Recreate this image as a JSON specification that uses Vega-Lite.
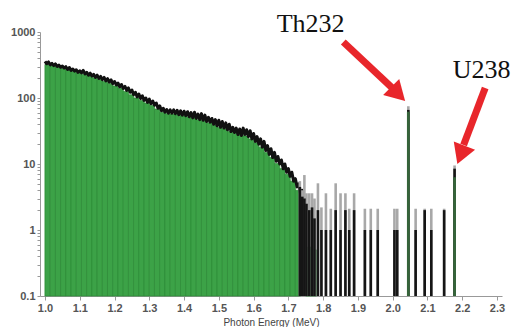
{
  "$schema": "https://vega.github.io/schema/vega-lite/v6.json",
  "width": 462,
  "height": 264,
  "autosize": {"type": "none"},
  "padding": {"left": 40, "top": 32, "right": 15, "bottom": 31},
  "background": "white",
  "config": {"view": {"stroke": null}, "font": "Liberation Sans", "axis": {"labelOverlap": false, "labelBound": false, "labelFlush": false}},
  "datasets": {
    "noise": [
      {"e":1.000,"n":360},{"e":1.005,"n":330},{"e":1.010,"n":352},{"e":1.015,"n":318},{"e":1.020,"n":335},{"e":1.025,"n":310},{"e":1.030,"n":328},{"e":1.035,"n":300},{"e":1.040,"n":315},{"e":1.045,"n":292},
      {"e":1.050,"n":305},{"e":1.055,"n":285},{"e":1.060,"n":298},{"e":1.065,"n":270},{"e":1.070,"n":290},{"e":1.075,"n":262},{"e":1.080,"n":275},{"e":1.085,"n":255},{"e":1.090,"n":268},{"e":1.095,"n":245},
      {"e":1.100,"n":258},{"e":1.105,"n":240},{"e":1.110,"n":262},{"e":1.115,"n":232},{"e":1.120,"n":245},{"e":1.125,"n":222},{"e":1.130,"n":238},{"e":1.135,"n":215},{"e":1.140,"n":228},{"e":1.145,"n":205},
      {"e":1.150,"n":222},{"e":1.155,"n":198},{"e":1.160,"n":212},{"e":1.165,"n":190},{"e":1.170,"n":205},{"e":1.175,"n":182},{"e":1.180,"n":196},{"e":1.185,"n":175},{"e":1.190,"n":188},{"e":1.195,"n":165},
      {"e":1.200,"n":178},{"e":1.205,"n":158},{"e":1.210,"n":168},{"e":1.215,"n":148},{"e":1.220,"n":160},{"e":1.225,"n":140},{"e":1.230,"n":150},{"e":1.235,"n":130},{"e":1.240,"n":142},{"e":1.245,"n":122},
      {"e":1.250,"n":132},{"e":1.255,"n":112},{"e":1.260,"n":122},{"e":1.265,"n":104},{"e":1.270,"n":115},{"e":1.275,"n":98},{"e":1.280,"n":108},{"e":1.285,"n":92},{"e":1.290,"n":100},{"e":1.295,"n":86},
      {"e":1.300,"n":96},{"e":1.305,"n":82},{"e":1.310,"n":90},{"e":1.315,"n":78},{"e":1.320,"n":84},{"e":1.325,"n":70},{"e":1.330,"n":76},{"e":1.335,"n":64},{"e":1.340,"n":70},{"e":1.345,"n":61},
      {"e":1.350,"n":67},{"e":1.355,"n":59},{"e":1.360,"n":66},{"e":1.365,"n":59},{"e":1.370,"n":66},{"e":1.375,"n":58},{"e":1.380,"n":65},{"e":1.385,"n":56},{"e":1.390,"n":64},{"e":1.395,"n":55},
      {"e":1.400,"n":63},{"e":1.405,"n":54},{"e":1.410,"n":62},{"e":1.415,"n":52},{"e":1.420,"n":60},{"e":1.425,"n":50},{"e":1.430,"n":61},{"e":1.435,"n":49},{"e":1.440,"n":57},{"e":1.445,"n":47},
      {"e":1.450,"n":58},{"e":1.455,"n":46},{"e":1.460,"n":55},{"e":1.465,"n":44},{"e":1.470,"n":51},{"e":1.475,"n":43},{"e":1.480,"n":49},{"e":1.485,"n":40},{"e":1.490,"n":47},{"e":1.495,"n":38},
      {"e":1.500,"n":46},{"e":1.505,"n":36},{"e":1.510,"n":44},{"e":1.515,"n":35},{"e":1.520,"n":42},{"e":1.525,"n":33},{"e":1.530,"n":40},{"e":1.535,"n":31},{"e":1.540,"n":36},{"e":1.545,"n":30},
      {"e":1.550,"n":35},{"e":1.555,"n":28},{"e":1.560,"n":34},{"e":1.565,"n":27},{"e":1.570,"n":35},{"e":1.575,"n":28},{"e":1.580,"n":33},{"e":1.585,"n":26},{"e":1.590,"n":32},{"e":1.595,"n":24},
      {"e":1.600,"n":29},{"e":1.605,"n":22},{"e":1.610,"n":26},{"e":1.615,"n":20},{"e":1.620,"n":24},{"e":1.625,"n":18},{"e":1.630,"n":22},{"e":1.635,"n":16},{"e":1.640,"n":19},{"e":1.645,"n":14},
      {"e":1.650,"n":17},{"e":1.655,"n":12.5},{"e":1.660,"n":15},{"e":1.665,"n":11},{"e":1.670,"n":13},{"e":1.675,"n":10},{"e":1.680,"n":11.5},{"e":1.685,"n":8.5},{"e":1.690,"n":10},{"e":1.695,"n":7.5},
      {"e":1.700,"n":8.5},{"e":1.705,"n":6.5},{"e":1.710,"n":7.5},{"e":1.715,"n":5.5},{"e":1.720,"n":6},{"e":1.725,"n":4.5},{"e":1.730,"n":5},{"e":1.735,"n":3.5},{"e":1.740,"n":4},{"e":1.745,"n":2.8},{"e":1.750,"n":3}
    ],
    "green": [
      {"e":1.0075,"v":322},{"e":1.0225,"v":310},{"e":1.0375,"v":296},{"e":1.0525,"v":282},{"e":1.0675,"v":268},{"e":1.0825,"v":254},{"e":1.0975,"v":240},{"e":1.1125,"v":230},{"e":1.1275,"v":216},{"e":1.1425,"v":203},
      {"e":1.1575,"v":190},{"e":1.1725,"v":178},{"e":1.1875,"v":166},{"e":1.2025,"v":152},{"e":1.2175,"v":140},{"e":1.2325,"v":126},{"e":1.2475,"v":112},{"e":1.2625,"v":100},{"e":1.2775,"v":92},{"e":1.2925,"v":84},
      {"e":1.3075,"v":77},{"e":1.3225,"v":68},{"e":1.3375,"v":61},{"e":1.3525,"v":58},{"e":1.3675,"v":57},{"e":1.3825,"v":56},{"e":1.3975,"v":54},{"e":1.4125,"v":52},{"e":1.4275,"v":50},{"e":1.4425,"v":47},
      {"e":1.4575,"v":45},{"e":1.4725,"v":42},{"e":1.4875,"v":39},{"e":1.5025,"v":36},{"e":1.5175,"v":34},{"e":1.5325,"v":31},{"e":1.5475,"v":29},{"e":1.5625,"v":27.5},{"e":1.5775,"v":26.5},{"e":1.5925,"v":24},
      {"e":1.6075,"v":21},{"e":1.6225,"v":18},{"e":1.6375,"v":15},{"e":1.6525,"v":12.5},{"e":1.6675,"v":10.2},{"e":1.6825,"v":8.5},{"e":1.6975,"v":7},{"e":1.7125,"v":5.5},{"e":1.7275,"v":4},{"e":1.7575,"v":0.55},{"e":1.7725,"v":0.5}
    ],
    "tail": [
      {"e":1.733,"top":5.5,"dark":4.5},{"e":1.740,"top":4,"dark":3.2},{"e":1.746,"top":6.8,"dark":3},{"e":1.752,"top":3.6,"dark":2.5},{"e":1.760,"top":3.6,"dark":2},
      {"e":1.768,"top":3.6,"dark":2.2},{"e":1.775,"top":3,"dark":1.5},{"e":1.785,"top":5.1,"dark":2},{"e":1.795,"top":2.2,"dark":1},{"e":1.808,"top":3.6,"dark":1},
      {"e":1.822,"top":2.1,"dark":1},{"e":1.836,"top":5.1,"dark":2},{"e":1.850,"top":3.6,"dark":1},{"e":1.864,"top":3.6,"dark":2},{"e":1.875,"top":2.1,"dark":1},
      {"e":1.889,"top":3.6,"dark":2},{"e":1.920,"top":2.1,"dark":1},{"e":1.937,"top":2.1,"dark":1},{"e":1.957,"top":2.1,"dark":1},{"e":2.005,"top":2.1,"dark":1},
      {"e":2.013,"top":2.1,"dark":1},{"e":2.045,"top":75,"dark":66},{"e":2.066,"top":2.1,"dark":1},{"e":2.092,"top":2.1,"dark":2},{"e":2.111,"top":2.1,"dark":1},
      {"e":2.148,"top":2.1,"dark":2},{"e":2.178,"top":9.5,"dark":8.5}
    ],
    "peaks": [{"e":2.045,"v":62},{"e":2.178,"v":6.3}],
    "labels": [{"e":1.764,"v":1000,"t":"Th232"},{"e":2.256,"v":201,"t":"U238"}],
    "shafts": [{"name":"Th","e":1.858,"v":705,"e2":2.0,"v2":140},{"name":"U","e":2.266,"v":142,"e2":2.204,"v2":19.4}],
    "heads": [{"name":"Th","e":2.009,"v":125},{"name":"U","e":2.1995,"v":15.3}]
  },
  "encoding": {
    "x": {"field": "e", "type": "quantitative",
      "scale": {"domain": [1.0, 2.3], "nice": false, "zero": false},
      "axis": {"values": [1.0,1.1,1.2,1.3,1.4,1.5,1.6,1.7,1.8,1.9,2.0,2.1,2.2,2.3], "format": ".1f", "labelOverlap": false, "tickCount": 14,
        "title": "Photon Energy (MeV)", "titleFont": "Liberation Sans", "titleFontSize": 10, "titleFontWeight": "normal", "titleColor": "#444", "titlePadding": 4,
        "labelFont": "Liberation Sans", "labelFontSize": 11, "labelFontWeight": "bold", "labelColor": "#555", "labelPadding": 2,
        "domainColor": "#999", "tickColor": "#999", "tickSize": 4, "grid": false}}
  },
  "layer": [
    {
      "data": {"name": "green"},
      "mark": {"type": "bar", "width": 5.4, "fill": "#3ca247", "stroke": "#2c8a37", "strokeWidth": 0.7},
      "encoding": {
        "y": {"field": "v", "type": "quantitative",
          "scale": {"type": "log", "domain": [0.1, 1000], "nice": false},
          "axis": {"values": [0.1,0.2,0.3,0.4,0.5,0.6,0.7,0.8,0.9,1,2,3,4,5,6,7,8,9,10,20,30,40,50,60,70,80,90,100,200,300,400,500,600,700,800,900,1000],
            "format": "~g", "labelOverlap": false,
            "labelExpr": "datum.value == 0.1 || datum.value == 1 || datum.value == 10 || datum.value == 100 || datum.value == 1000 ? datum.label : ''",
            "title": null, "labelFont": "Liberation Sans", "labelFontSize": 11, "labelFontWeight": "bold", "labelColor": "#555", "labelPadding": 2,
            "domainColor": "#999", "tickColor": "#999", "tickSize": 3, "grid": false}},
        "y2": {"datum": 0.1}
      }
    },
    {
      "data": {"name": "noise"},
      "mark": {"type": "line", "color": "#111", "strokeWidth": 3, "strokeJoin": "round"},
      "encoding": {
        "y": {"field": "n", "type": "quantitative"}
      }
    },
    {
      "data": {"name": "tail"},
      "mark": {"type": "bar", "width": 2.6, "fill": "#a8a8a8"},
      "encoding": {
        "y": {"field": "top", "type": "quantitative"},
        "y2": {"datum": 0.1}
      }
    },
    {
      "data": {"name": "tail"},
      "mark": {"type": "bar", "width": 2.6, "fill": "#151515"},
      "encoding": {
        "y": {"field": "dark", "type": "quantitative"},
        "y2": {"datum": 0.1}
      }
    },
    {
      "data": {"name": "peaks"},
      "mark": {"type": "bar", "width": 2.8, "fill": "#35643a"},
      "encoding": {
        "y": {"field": "v", "type": "quantitative"},
        "y2": {"datum": 0.1}
      }
    },
    {
      "data": {"name": "shafts"},
      "mark": {"type": "rule", "color": "#e8262b", "strokeWidth": 7, "strokeCap": "butt"},
      "encoding": {
        "y": {"field": "v", "type": "quantitative"},
        "x2": {"field": "e2"},
        "y2": {"field": "v2"}
      }
    },
    {
      "data": {"name": "heads"},
      "transform": [{"filter": "datum.name == 'Th'"}],
      "mark": {"type": "point", "shape": "triangle", "filled": true, "color": "#e8262b", "opacity": 1, "size": 520, "angle": 135},
      "encoding": {
        "y": {"field": "v", "type": "quantitative"}
      }
    },
    {
      "data": {"name": "heads"},
      "transform": [{"filter": "datum.name == 'U'"}],
      "mark": {"type": "point", "shape": "triangle", "filled": true, "color": "#e8262b", "opacity": 1, "size": 520, "angle": 201},
      "encoding": {
        "y": {"field": "v", "type": "quantitative"}
      }
    },
    {
      "data": {"name": "labels"},
      "mark": {"type": "text", "font": "Liberation Serif", "fontSize": 26, "color": "#111", "baseline": "alphabetic", "align": "center"},
      "encoding": {
        "y": {"field": "v", "type": "quantitative"},
        "text": {"field": "t"}
      }
    }
  ]
}
